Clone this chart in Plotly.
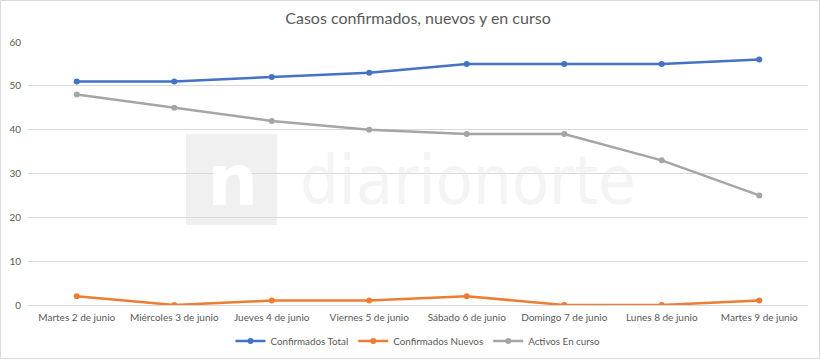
import plotly.graph_objects as go

categories = ["Martes 2 de junio", "Miércoles 3 de junio", "Jueves 4 de junio",
              "Viernes 5 de junio", "Sábado 6 de junio", "Domingo 7 de junio",
              "Lunes 8 de junio", "Martes 9 de junio"]
confirmados_total = [51, 51, 52, 53, 55, 55, 55, 56]
confirmados_nuevos = [2, 0, 1, 1, 2, 0, 0, 1]
activos_en_curso = [48, 45, 42, 40, 39, 39, 33, 25]

series = [
    ("Confirmados Total", confirmados_total, "#4472C4"),
    ("Confirmados Nuevos", confirmados_nuevos, "#ED7D31"),
    ("Activos En curso", activos_en_curso, "#A5A5A5"),
]

W, H = 820, 359
L, R, T, B = 28, 12, 42, 54
pw, ph = W - L - R, H - T - B

fig = go.Figure()
for name, vals, col in series:
    fig.add_trace(go.Scatter(
        x=categories, y=vals, name=name, mode="lines+markers",
        line=dict(color=col, width=2.5), marker=dict(color=col, size=6),
    ))

def px_x(p):
    return (p - L) / pw

def px_y(p):
    return (H - B - p) / ph

# watermark box and text
fig.add_shape(type="rect", xref="paper", yref="paper", layer="below",
              x0=px_x(186), x1=px_x(277), y0=px_y(225), y1=px_y(134),
              fillcolor="#f0f0f0", line=dict(width=0))
fig.add_annotation(xref="paper", yref="paper", x=px_x(232), y=px_y(180),
                   xanchor="center", yanchor="middle", text="<b>n</b>", showarrow=False,
                   font=dict(family="DejaVu Sans", size=72, color="#ffffff"))
fig.add_annotation(xref="paper", yref="paper", x=px_x(468), y=px_y(180),
                   xanchor="center", yanchor="middle", text="diarionorte", showarrow=False,
                   opacity=0.45,
                   font=dict(family="DejaVu Sans Condensed", size=68, color="#e8e8e8"))

# outer border
fig.add_shape(type="rect", xref="paper", yref="paper", layer="below",
              x0=px_x(0.5), x1=px_x(W - 0.5), y0=px_y(H - 0.5), y1=px_y(0.5),
              line=dict(color="#d9d9d9", width=1), fillcolor="rgba(0,0,0,0)")

fig.update_layout(
    width=W, height=H,
    margin=dict(l=L, r=R, t=T, b=B, autoexpand=False),
    paper_bgcolor="white", plot_bgcolor="white",
    font=dict(family="Lato", size=10, color="#595959"),
    title=dict(text="Casos confirmados, nuevos y en curso", x=0.5, xanchor="center",
               xref="paper", y=1 - 18 / H, yanchor="middle",
               font=dict(family="Lato", size=16, color="#595959")),
    xaxis=dict(type="category", range=[-0.5, 7.5], showgrid=False, showline=False,
               ticks="", tickfont=dict(size=10, color="#595959"), fixedrange=True,
               automargin=False, ticklabelstandoff=5),
    yaxis=dict(range=[0, 60], dtick=10, showgrid=True, gridcolor="#d9d9d9", gridwidth=1,
               zeroline=True, zerolinecolor="#d9d9d9", zerolinewidth=1, showline=False,
               ticks="", tickfont=dict(size=10, color="#595959"), ticklabelstandoff=6,
               fixedrange=True, automargin=False),
    legend=dict(orientation="h", x=0.5, xanchor="center", y=px_y(341), yanchor="middle",
                font=dict(size=9.8, color="#595959"), itemwidth=30, tracegroupgap=0),
    showlegend=True,
)

fig.write_html("out.html", config={"displayModeBar": False},
               post_script="document.body.style.margin='0';document.body.style.overflow='hidden';")
